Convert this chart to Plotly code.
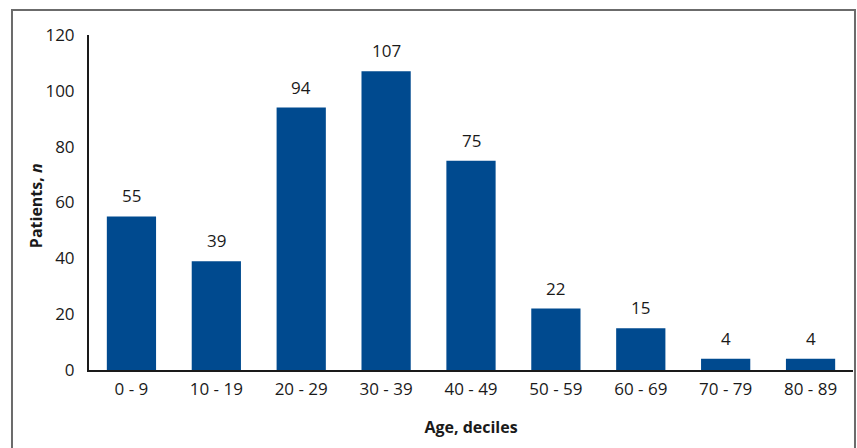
import plotly.graph_objects as go

categories = ["0 - 9", "10 - 19", "20 - 29", "30 - 39", "40 - 49", "50 - 59", "60 - 69", "70 - 79", "80 - 89"]
patients = [55, 39, 94, 107, 75, 22, 15, 4, 4]
y_ticks = [0, 20, 40, 60, 80, 100, 120]

BAR = "#004A8F"
FONT = "Open Sans"

fig = go.Figure()
fig.add_trace(go.Bar(x=categories, y=patients, marker=dict(color=BAR, line=dict(width=0)),
                     hoverinfo="x+y"))

for c, v in zip(categories, patients):
    fig.add_annotation(x=c, y=v, text=str(v), showarrow=False, yanchor="bottom", yshift=7,
                       font=dict(family=FONT, size=17, color="#1a1a1a"))

# y-axis title
fig.add_annotation(xref="paper", yref="paper", x=-0.069, y=0.49, xanchor="center", yanchor="middle",
                   text="<b>Patients, <i>n</i></b>", textangle=-90, showarrow=False,
                   font=dict(family=FONT, size=16, color="#1a1a1a"))

fig.add_shape(type="rect", xref="paper", yref="paper", x0=-0.1008, x1=1.0026, y0=-0.25, y1=1.0746,
              line=dict(color="#6b6b6b", width=2), fillcolor="rgba(0,0,0,0)", layer="below")

fig.update_layout(
    width=857, height=448,
    margin=dict(l=89, r=4, t=35, b=78),
    paper_bgcolor="white", plot_bgcolor="white",
    bargap=0.42,
    showlegend=False,
    font=dict(family=FONT, size=17, color="#1a1a1a"),
    xaxis=dict(range=[-0.5, 8.5], showline=True, linecolor="#1a1a1a", linewidth=2,
               ticks="", showgrid=False, zeroline=False, ticklabelstandoff=3,
               tickfont=dict(family=FONT, size=17),
               title=dict(text="<b>Age, deciles</b>", standoff=22, font=dict(family=FONT, size=16))),
    yaxis=dict(range=[0, 120], tickvals=y_ticks, showline=True, linecolor="#1a1a1a", linewidth=2,
               ticks="", showgrid=False, zeroline=False, ticklabelstandoff=9,
               tickfont=dict(family=FONT, size=17)),
)

fig.write_html("out.html")
